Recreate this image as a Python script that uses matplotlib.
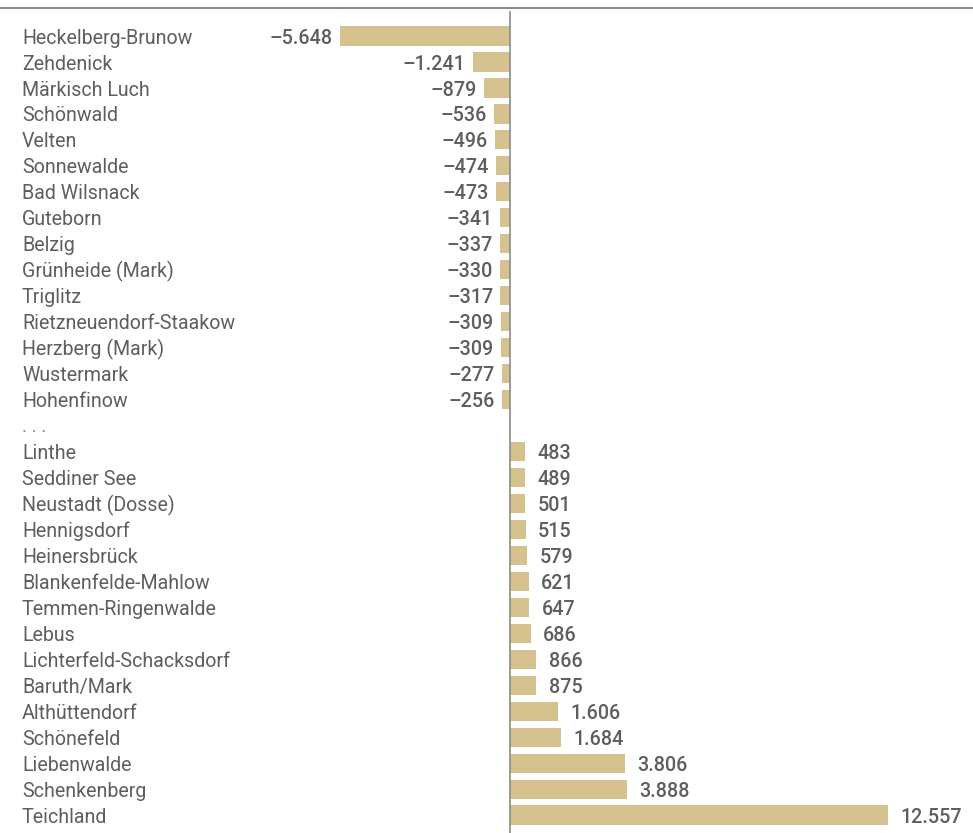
import matplotlib
matplotlib.use('Agg')
import matplotlib.pyplot as plt
import matplotlib.transforms as mtransforms

# Gemeinden with the largest losses and gains
names_neg = ["Heckelberg-Brunow", "Zehdenick", "Märkisch Luch", "Schönwald", "Velten",
             "Sonnewalde", "Bad Wilsnack", "Guteborn", "Belzig", "Grünheide (Mark)",
             "Triglitz", "Rietzneuendorf-Staakow", "Herzberg (Mark)", "Wustermark", "Hohenfinow"]
values_neg = [-5648, -1241, -879, -536, -496, -474, -473, -341, -337, -330,
              -317, -309, -309, -277, -256]

names_pos = ["Linthe", "Seddiner See", "Neustadt (Dosse)", "Hennigsdorf", "Heinersbrück",
             "Blankenfelde-Mahlow", "Temmen-Ringenwalde", "Lebus", "Lichterfeld-Schacksdorf",
             "Baruth/Mark", "Althüttendorf", "Schönefeld", "Liebenwalde", "Schenkenberg", "Teichland"]
values_pos = [483, 489, 501, 515, 579, 621, 647, 686, 866, 875, 1606, 1684, 3806, 3888, 12557]

bar_color = "#d6c28e"
text_color = "#5e5e5e"
plt.rcParams['font.family'] = ['Roboto', 'DejaVu Sans']


def fmt(v):
    s = "{:,}".format(abs(v)).replace(",", ".")
    return ("\u2013" + s) if v < 0 else s


fig = plt.figure(figsize=(9.73, 8.33), dpi=100)
ax = fig.add_axes([0, 0, 1, 1])
ax.set_axis_off()

px = 0.0301  # pixels per unit
ax.set_xlim(-510 / px, (973 - 510) / px)
row = 25.97
ax.set_ylim((833 - 36) / row, -36 / row)

ypos_neg = list(range(len(names_neg)))
ypos_pos = [len(names_neg) + 1 + i for i in range(len(names_pos))]

ax.barh(ypos_neg, values_neg, height=0.74, color=bar_color, edgecolor="none")
ax.barh(ypos_pos, values_pos, height=0.74, color=bar_color, edgecolor="none")

trans = mtransforms.blended_transform_factory(ax.transAxes, ax.transData)
for y, n in zip(ypos_neg + ypos_pos, names_neg + names_pos):
    ax.text(22 / 973, y + 0.08, n, transform=trans, ha="left", va="center",
            fontsize=14.1, color=text_color)
# gap between the two groups
ax.text(22 / 973, len(names_neg) + 0.05, ". . .", transform=trans, ha="left", va="center",
        fontsize=13.5, color="#8c8c8c")

for y, v in zip(ypos_neg, values_neg):
    ax.annotate(fmt(v), (v, y + 0.08), xytext=(-5, 0), textcoords="offset points",
                ha="right", va="center", fontsize=14.2, fontweight="medium", color=text_color)
for y, v in zip(ypos_pos, values_pos):
    ax.annotate(fmt(v), (v, y + 0.08), xytext=(9, 0), textcoords="offset points",
                ha="left", va="center", fontsize=14.2, fontweight="medium", color=text_color)

ax.axvline(0, ymin=0, ymax=1 - 12 / 833, color="#8a8a8a", lw=1.2)
ax.axhline((8 - 36) / row, color="#7a7a7a", lw=1.3)

fig.savefig("out.png", dpi=100, facecolor="white")
